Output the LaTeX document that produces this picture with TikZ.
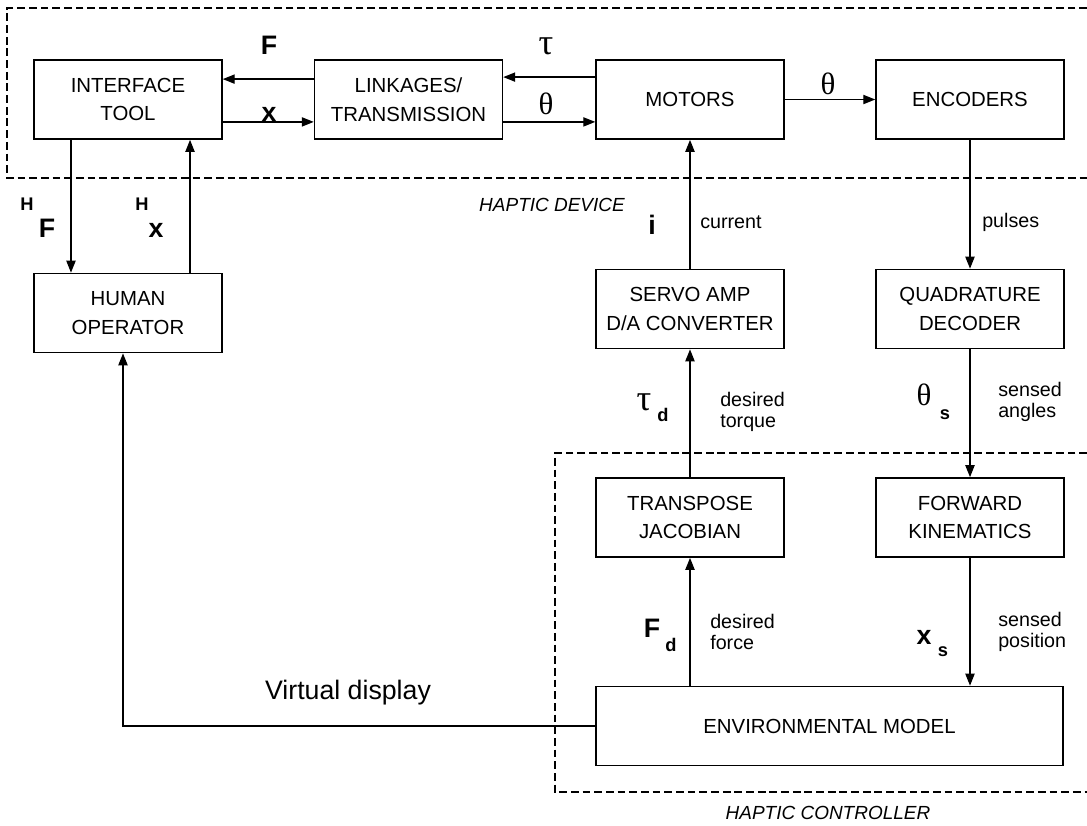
\documentclass[tikz,border=0pt]{standalone}
\usepackage{fontspec}
\setmainfont{Liberation Sans}
\newfontfamily\grkfont{Liberation Serif}
\usetikzlibrary{arrows.meta}
\tikzset{
  blk/.style={draw, line width=1pt, minimum width=4.7cm, minimum height=1.98cm, inner sep=0pt, align=center, font=\fontsize{14.5}{20.5}\selectfont},
  arr/.style={-{Triangle[length=3mm,width=2.3mm]}, line width=1pt},
  grp/.style={dash pattern=on 5.5pt off 2.8pt, line width=1.5pt},
  sig/.style={font=\fontsize{19}{19}\selectfont\bfseries, inner sep=0pt},
  sub/.style={font=\fontsize{13}{13}\selectfont\bfseries, inner sep=0pt},
  grk/.style={font=\fontsize{22}{22}\selectfont\grkfont, inner sep=0pt},
  tau/.style={font=\fontsize{26}{26}\selectfont\grkfont, inner sep=0pt},
  note/.style={font=\fontsize{14}{14.5}\selectfont, align=left, anchor=west, inner sep=0pt},
  tag/.style={font=\fontsize{13.5}{13.5}\selectfont\itshape, inner sep=0pt}
}

\begin{document}
\begin{tikzpicture}[x=0.025cm, y=-0.025cm]
  \useasboundingbox (0,0) rectangle (1087,825);
  % haptic device and controller groups
  \draw[grp] (1087,8) -- (7,8) -- (7,178) -- (1087,178);
  \draw[grp] (1087,453) -- (555,453) -- (555,792) -- (1087,792);
  \node[tag] (tdev) at (552,205) {HAPTIC DEVICE};
  \node[tag] (tctl) at (828,813) {HAPTIC CONTROLLER};

  \node[blk] (iface)  at (128,99.5)   {INTERFACE\\TOOL};
  \node[blk] (link)   at (408.5,99.5) {LINKAGES/\\TRANSMISSION};
  \node[blk] (motors) at (690,99.5)   {MOTORS};
  \node[blk] (enc)    at (970,99.5)   {ENCODERS};
  \node[blk] (human)  at (128,313)    {HUMAN\\OPERATOR};
  \node[blk] (servo)  at (690,309)    {SERVO AMP\\D/A CONVERTER};
  \node[blk] (quad)   at (970,309)    {QUADRATURE\\DECODER};
  \node[blk] (trans)  at (690,517.5)  {TRANSPOSE\\JACOBIAN};
  \node[blk] (fwd)    at (970,517.5)  {FORWARD\\KINEMATICS};
  \node[blk, minimum width=11.675cm] (env) at (829.5,726) {ENVIRONMENTAL MODEL};

  % connectors
  \draw[arr] ([yshift=5.1mm]link.west) -- ([yshift=5.1mm]iface.east);
  \draw[arr] ([yshift=-5.6mm]iface.east) -- ([yshift=-5.6mm]link.west);
  \draw[arr] ([yshift=5.6mm]motors.west) -- ([yshift=5.6mm]link.east);
  \draw[arr] ([yshift=-5.6mm]link.east) -- ([yshift=-5.6mm]motors.west);
  \draw[arr] (motors) -- (enc);
  \draw[arr] ([xshift=-14.25mm]iface.south) -- ([xshift=-14.25mm]human.north);
  \draw[arr] ([xshift=15.5mm]human.north) -- ([xshift=15.5mm]iface.south);
  \draw[arr] (servo) -- (motors);
  \draw[arr] (enc) -- (quad);
  \draw[arr] (trans) -- (servo);
  \draw[arr] (quad) -- (fwd);
  \draw[arr] (env.north -| trans) -- (trans);
  \draw[arr] (fwd) -- (fwd |- env.north);
  \draw[arr] (env.west) -| ([xshift=-1.25mm]human.south);

  % signal labels
  \node[sig] (lF)   at (269,45)  {F};
  \node[sig] (lX)   at (269,114) {x};
  \node[tau] (ltau) at (546,46)  {τ};
  \node[grk] (lth)  at (546,104) {θ};
  \node[grk] (lthm) at (828,84)  {θ};
  \node[sub] (lHFh) at (27,204)  {H};
  \node[sig] (lHF)  at (47,228)  {F};
  \node[sub] (lHXh) at (142,204) {H};
  \node[sig] (lHX)  at (156,230) {x};
  \node[sig] (li)   at (652,225) {i};
  \node[tau] (ltd)  at (644,402) {τ};
  \node[sub] (ltdd) at (663,415) {d};
  \node[grk] (lts)  at (924,395) {θ};
  \node[sub] (ltss) at (945,415) {s};
  \node[sig] (lFd)  at (652,628) {F};
  \node[sub] (lFdd) at (671,645) {d};
  \node[sig] (lXs)  at (924,637) {x};
  \node[sub] (lXss) at (943,652) {s};

  \node[note] (ncur) at (700,222) {current};
  \node[note] (npul) at (982,222) {pulses};
  \node[note] (ntor) at (720,412) {desired\\torque};
  \node[note] (nang) at (998,402) {sensed\\angles};
  \node[note] (nfor) at (710,632) {desired\\force};
  \node[note] (npos) at (998,632) {sensed\\position};
  \node[font=\fontsize{19}{19}\selectfont, inner sep=0pt] (nvd) at (348,693) {Virtual display};
\end{tikzpicture}
\end{document}
